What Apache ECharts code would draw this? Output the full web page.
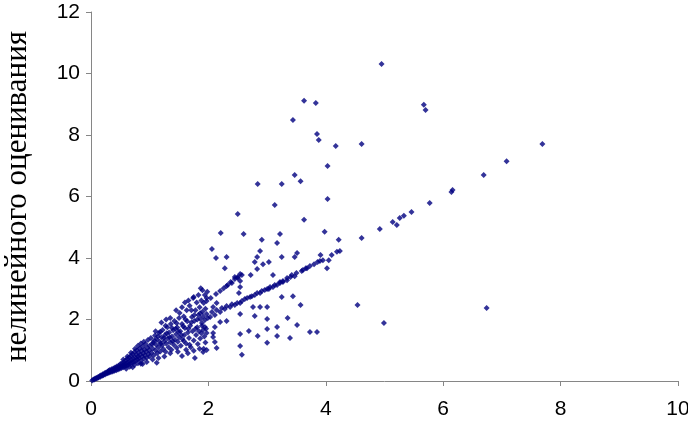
<!DOCTYPE html>
<html>
<head>
<meta charset="utf-8">
<script src="https://cdn.jsdelivr.net/npm/echarts@6/dist/echarts.min.js"></script>
<style>
  html, body { margin: 0; padding: 0; background: #fff; }
  #chart { width: 688px; height: 425px; }
</style>
</head>
<body>
<div id="chart"></div>
<script>
// значения (x, y)
const xTicks = [0, 2, 4, 6, 8, 10];
const yTicks = [0, 2, 4, 6, 8, 10, 12];
const yTitle = "нелинейного оценивания";

// разбросанные точки сверху
const outliers = [
  [4.95,10.31],[3.63,9.11],[3.83,9.04],[5.67,8.98],[5.70,8.81],[3.44,8.49],[3.85,8.03],[3.88,7.84],
  [4.17,7.64],[4.61,7.71],[7.69,7.71],[7.08,7.15],[4.03,6.99],[3.47,6.70],[3.57,6.50],[6.69,6.70],
  [2.84,6.41],[3.25,6.41],[6.16,6.21],[6.14,6.15],[4.03,5.92],[3.13,5.72],[5.77,5.79],[2.50,5.43],
  [3.63,5.24],[2.21,4.81],[2.60,4.78],[3.22,4.78],[3.98,4.85],[2.91,4.59],[3.17,4.49],[4.22,4.59],
  [2.06,4.29],[2.88,4.23],[2.13,4.00],[2.31,4.03],[2.83,4.03],[3.25,4.03],[3.47,4.03],[3.51,4.16],
  [2.79,3.87],[2.93,3.80],[3.03,3.87],[2.28,3.67],[4.02,3.67],[2.83,3.64],[3.10,3.45],[2.72,3.45]
];

// ветка вдоль y = x
const diagonal = [
  [5.46,5.50],[5.33,5.37],[5.26,5.30],[5.21,5.07],[5.14,5.17],[4.92,4.94],[4.61,4.65],[4.24,4.23],
  [4.19,4.20],[4.10,4.10],[3.91,4.10],[4.05,3.93],[3.95,3.93],[3.90,3.90],[3.86,3.87],[3.80,3.80],
  [3.73,3.74],[3.68,3.67],[3.66,3.67],[3.61,3.61],[3.59,3.58],[3.50,3.51],[3.47,3.41],[3.42,3.45],
  [3.40,3.38],[3.34,3.35],[3.34,3.28],[3.27,3.25],[3.27,3.22],[3.22,3.22],[3.22,3.19],[3.17,3.12],
  [3.13,3.12],[3.10,3.06],[3.05,3.06],[3.03,2.99],[3.00,2.99],[2.96,2.96],[2.91,2.93],[2.88,2.86],
  [2.83,2.86],[2.79,2.80],[2.74,2.76],[2.71,2.73],[2.66,2.70],[2.62,2.67],[2.57,2.60],[2.54,2.54],
  [2.49,2.54],[2.45,2.47],[2.40,2.50],[2.37,2.41],[2.31,2.44],[2.28,2.34],[2.23,2.37],[2.20,2.24],
  [2.14,2.31],[2.11,2.15],[2.06,2.24],[2.03,2.08],[1.97,2.18],[1.94,1.98],[1.86,2.02]
];

// крутая ветка
const steep = [
  [2.54,3.48],[2.50,3.38],[2.45,3.32],[2.40,3.19],[2.33,3.12],[2.26,3.02],[2.20,2.93],[2.13,2.83],
  [2.04,2.70],[1.97,2.60],[1.92,2.54],[2.57,3.45],[2.50,3.35],[2.54,3.25],[2.45,3.38],[2.38,3.22],
  [2.31,3.09],[2.54,3.06],[2.52,2.86],[1.87,3.02],[1.75,2.73],[1.94,2.80],[1.97,2.70],[2.14,2.54],
  [2.08,2.41]
];

// точки ниже диагонали
const lower = [
  [2.20,1.92],[2.31,1.95],[2.11,1.76],[2.08,1.56],[2.54,2.18],[2.76,2.41],[3.00,2.41],[2.88,2.41],
  [3.25,2.73],[3.44,2.76],[3.57,2.47],[2.79,2.11],[3.00,2.02],[3.35,2.05],[3.51,1.82],[3.17,1.76],
  [3.00,1.69],[2.69,1.63],[2.54,1.53],[2.84,1.46],[3.17,1.46],[3.39,1.40],[3.00,1.24],[2.54,1.14],
  [2.57,0.85],[3.73,1.59],[3.85,1.59],[4.54,2.47],[4.99,1.89],[6.74,2.37],[1.89,1.89],[1.94,1.76],
  [1.91,1.66],[1.97,1.56],[2.08,1.43],[2.11,1.27],[2.14,1.07],[1.97,1.01],[1.91,0.94]
];

// плотное облако у начала координат
const cloud = [
  [0.02,0.02],[0.04,0.05],[0.06,0.05],[0.07,0.08],[0.09,0.10],[0.10,0.08],[0.12,0.13],[0.13,0.11],
  [0.15,0.16],[0.16,0.14],[0.17,0.19],[0.19,0.17],[0.20,0.22],[0.21,0.19],[0.23,0.25],[0.24,0.21],
  [0.25,0.27],[0.27,0.24],[0.28,0.30],[0.29,0.26],[0.30,0.33],[0.31,0.28],[0.32,0.36],[0.33,0.31],
  [0.34,0.29],[0.35,0.38],[0.36,0.34],[0.37,0.31],[0.38,0.41],[0.39,0.36],[0.40,0.33],[0.41,0.44],
  [0.42,0.39],[0.43,0.35],[0.44,0.47],[0.45,0.42],[0.46,0.37],[0.47,0.50],[0.48,0.44],[0.49,0.40],
  [0.50,0.55],[0.50,0.47],[0.52,0.42],[0.53,0.58],[0.54,0.50],[0.55,0.45],[0.56,0.62],[0.57,0.53],
  [0.58,0.48],[0.59,0.67],[0.60,0.57],[0.61,0.50],[0.62,0.72],[0.63,0.60],[0.64,0.53],[0.65,0.77],
  [0.66,0.64],[0.67,0.56],[0.68,0.82],[0.69,0.68],[0.70,0.59],[0.71,0.88],[0.72,0.73],[0.73,0.62],
  [0.74,0.94],[0.75,0.77],[0.76,0.66],[0.77,0.85],[0.78,1.00],[0.79,0.70],[0.80,0.80],[0.81,0.92],
  [0.82,0.74],[0.83,1.06],[0.84,0.86],[0.85,0.66],[0.86,0.98],[0.87,0.80],[0.88,1.12],[0.89,0.90],
  [0.90,0.72],[0.91,1.02],[0.92,0.84],[0.93,1.20],[0.94,0.95],[0.95,0.76],[0.96,1.08],[0.97,1.33],
  [0.98,0.88],[0.99,1.00],[1.00,0.80],[1.00,1.15],[0.71,0.45],[0.88,0.55],[1.12,0.59],
  [0.55,0.70],[0.62,0.80],[0.68,0.92],[0.75,1.05],[0.80,1.15],[0.85,1.22],[0.90,1.28],[0.60,0.40],
  [0.66,0.46],[0.74,0.52],[0.80,0.58],
  [1.02,1.40],[1.03,0.92],[1.05,1.06],[1.06,1.25],[1.07,0.84],[1.09,1.48],[1.10,1.00],[1.11,1.18],
  [1.12,1.35],[1.13,0.90],[1.15,1.10],[1.16,1.56],[1.17,1.28],[1.18,0.96],[1.20,1.42],[1.21,1.16],
  [1.22,1.66],[1.23,1.04],[1.25,1.30],[1.26,1.50],[1.27,0.95],[1.28,1.22],[1.30,1.75],[1.31,1.38],
  [1.32,1.10],[1.33,1.58],[1.35,1.26],[1.36,1.85],[1.37,1.02],[1.38,1.45],[1.40,1.65],[1.41,1.18],
  [1.42,1.95],[1.43,1.34],[1.45,1.52],[1.46,1.08],[1.47,1.74],[1.48,1.28],[1.50,2.05],[1.50,1.42],
  [1.04,1.20],[1.08,1.32],[1.14,1.45],[1.19,1.22],[1.24,1.40],[1.29,1.55],[1.34,1.42],[1.39,1.30],
  [1.44,1.70],[1.49,1.60],[1.46,1.88],[1.38,1.72],[1.27,1.80],[1.18,1.60],[1.10,1.62],[1.45,2.30],
  [1.35,2.05],[1.28,2.00],[1.20,1.90],[1.48,0.95],[1.35,0.90],[1.25,0.80],[1.15,0.75],[1.05,0.70],
  [0.95,0.62],[0.85,0.56],
  [1.51,2.21],[1.52,1.62],[1.53,1.15],[1.55,1.85],[1.55,0.81],[1.56,1.36],[1.58,2.10],[1.59,1.50],
  [1.60,1.72],[1.62,1.22],[1.63,2.30],[1.64,1.94],[1.65,1.58],[1.67,1.40],[1.68,2.45],[1.69,1.80],
  [1.70,1.10],[1.72,2.08],[1.73,1.62],[1.74,2.70],[1.75,1.32],[1.76,1.95],[1.77,0.75],[1.78,2.30],
  [1.79,1.50],[1.80,2.55],[1.81,1.75],[1.82,1.20],[1.83,2.15],[1.84,1.62],[1.85,2.40],[1.86,1.38],
  [1.88,2.62],[1.89,1.80],[1.90,2.25],[1.92,1.05],[1.93,1.45],[1.95,2.35],[1.96,1.70],[1.98,2.90],
  [1.54,1.50],[1.57,1.78],[1.61,2.00],[1.66,1.70],[1.71,1.90],[1.71,2.30],[1.76,2.15],[1.81,2.00],
  [1.86,2.20],[1.91,2.10],[1.60,2.55],[1.66,2.62],[1.55,2.40],[1.90,2.95],[1.83,2.80],[1.62,1.02],
  [1.95,1.25],[1.85,1.05],[1.75,0.98],[1.65,0.90],[1.58,1.30],[1.68,1.18],[1.78,1.70],[1.88,1.55],
  [1.99,2.05]
];

const allPoints = [].concat(cloud, steep, diagonal, lower, outliers);

const chart = echarts.init(document.getElementById("chart"));

const axisColor = "#868686";
const labelStyle = {
  color: "#000",
  fontFamily: "Liberation Sans, Arial, sans-serif",
  fontSize: 21
};

const option = {
  backgroundColor: "#fff",
  animation: false,
  grid: {
    left: 91, top: 12, width: 587, height: 369,
    containLabel: false,
    outerBoundsMode: "none"
  },
  xAxis: {
    type: "value",
    min: xTicks[0],
    max: xTicks[xTicks.length - 1],
    interval: 2,
    axisLine: { show: true, onZero: false, lineStyle: { color: axisColor, width: 1 } },
    axisTick: { show: true, inside: false, length: 5, lineStyle: { color: axisColor } },
    axisLabel: Object.assign({ margin: 18 }, labelStyle),
    splitLine: { show: false }
  },
  yAxis: {
    type: "value",
    min: yTicks[0],
    max: yTicks[yTicks.length - 1],
    interval: 2,
    name: yTitle,
    nameLocation: "middle",
    nameRotate: 90,
    nameGap: 58,
    nameTextStyle: {
      color: "#000",
      fontFamily: "Liberation Serif, Times New Roman, serif",
      fontSize: 31
    },
    axisLine: { show: true, onZero: false, lineStyle: { color: axisColor, width: 1 } },
    axisTick: { show: true, inside: false, length: 5, lineStyle: { color: axisColor } },
    axisLabel: Object.assign({ margin: 11 }, labelStyle),
    splitLine: { show: false }
  },
  series: [
    {
      type: "scatter",
      symbol: "diamond",
      symbolSize: 6,
      itemStyle: { color: "#000080" },
      data: allPoints
    }
  ]
};

chart.setOption(option);
</script>
</body>
</html>
